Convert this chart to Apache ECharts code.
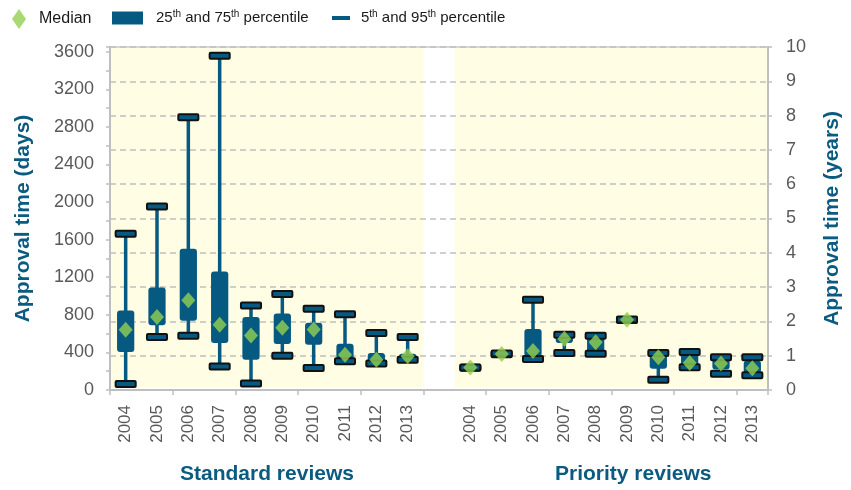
<!DOCTYPE html>
<html>
<head>
<meta charset="utf-8">
<script src="https://cdn.jsdelivr.net/npm/echarts@6/dist/echarts.min.js"></script>
<style>html,body{margin:0;padding:0;background:#fff;}#c{width:851px;height:490px;}</style>
</head>
<body>
<div id="c"></div>
<script>
// ---- data ----
const years = ['2004','2005','2006','2007','2008','2009','2010','2011','2012','2013'];
const groupNames = ['Standard reviews', 'Priority reviews'];
// Standard reviews (days)
const stdP5     = [65, 564, 578, 249, 68, 364, 235, 305, 281, 323];
const stdP25    = [405, 688, 738, 500, 323, 490, 481, 320, 288, 330];
const stdMedian = [642, 777, 954, 695, 581, 663, 645, 376, 323, 358];
const stdP75    = [845, 1092, 1503, 1262, 777, 815, 716, 493, 394, 387];
const stdP95    = [1663, 1953, 2903, 3558, 900, 1021, 865, 807, 607, 564];
// Priority reviews (days)
const priP5     = [236, 380, 330, 394, 387, 746, 110, 241, 174, 156];
const priP25    = [237, 382, 358, 500, 394, 747, 227, 245, 217, 182];
const priMedian = [240, 384, 416, 546, 507, 748, 348, 288, 281, 231];
const priP75    = [239, 386, 650, 571, 570, 749, 394, 394, 340, 312];
const priP95    = [240, 388, 961, 589, 578, 750, 394, 405, 348, 348];
const daysTicks = [0, 400, 800, 1200, 1600, 2000, 2400, 2800, 3200, 3600];
const yearTicks = [0,1,2,3,4,5,6,7,8,9,10];

// ---- build ----
const categories = years.concat([''], years);
const groups = [
  {offset: 0, p5: stdP5, p25: stdP25, med: stdMedian, p75: stdP75, p95: stdP95},
  {offset: 11, p5: priP5, p25: priP25, med: priMedian, p75: priP75, p95: priP95}
];
const whiskerData = [], boxData = [], capData = [], medData = [];
groups.forEach(g => {
  years.forEach((y, i) => {
    const x = g.offset + i;
    whiskerData.push([x, g.p5[i], g.p95[i]]);
    boxData.push([x, g.p25[i], g.p75[i]]);
    capData.push([x, g.p5[i]]);
    capData.push([x, g.p95[i]]);
    medData.push([x, g.med[i]]);
  });
});
const bgData = [[0, years.length - 1], [11, 11 + years.length - 1]];

const BLUE = '#065A82';
const GREEN = '#92D050';
const GRAY = '#595959';
const AXIS = '#BFBFBF';
const TITLE = '#0B5A80';
const FONT = '"Liberation Sans", Arial, sans-serif';

const chart = echarts.init(document.getElementById('c'), null, {renderer: 'canvas'});

const legendBase = {
  top: 4,
  textStyle: {fontFamily: FONT, fontSize: 15, color: '#1a1a1a',
    rich: {
      b: {fontFamily: FONT, fontSize: 15, color: '#1a1a1a'},
      sup: {fontFamily: FONT, fontSize: 10, color: '#1a1a1a', padding: [0, 0, 8, 0]}
    }
  },
  selectedMode: false
};

chart.setOption({
  animation: false,
  backgroundColor: '#ffffff',
  grid: {left: 110, right: 83, top: 47, bottom: 100, show: true, borderColor: '#C9C9C9', borderWidth: 1.5, backgroundColor: 'transparent'},
  legend: [
    Object.assign({}, legendBase, {left: 7, data: [{name: 'Median', icon: 'diamond'}], itemWidth: 14, itemHeight: 20,
      textStyle: Object.assign({}, legendBase.textStyle, {fontSize: 16, padding: [0, 0, 0, 8]})}),
    Object.assign({}, legendBase, {left: 107, data: [{name: '25th and 75th percentile', icon: 'rect'}], itemWidth: 31, itemHeight: 13,
      formatter: () => '{b|25}{sup|th}{b| and 75}{sup|th}{b| percentile}',
      textStyle: Object.assign({}, legendBase.textStyle, {padding: [0, 0, 0, 8]})}),
    Object.assign({}, legendBase, {left: 327, data: [{name: '5th and 95th percentile', icon: 'rect'}], itemWidth: 18, itemHeight: 4,
      formatter: () => '{b|5}{sup|th}{b| and 95}{sup|th}{b| percentile}',
      textStyle: Object.assign({}, legendBase.textStyle, {padding: [0, 0, 0, 6]})})
  ],
  xAxis: {
    type: 'category', data: categories, boundaryGap: true,
    axisLine: {lineStyle: {color: AXIS, width: 2}},
    axisTick: {show: true, interval: 1, length: 5, lineStyle: {color: AXIS, width: 1.5}},
    axisLabel: {interval: 0, rotate: 90, fontFamily: FONT, fontSize: 17, color: GRAY, margin: 15},
    splitLine: {show: false}
  },
  yAxis: [
    {
      type: 'value', min: 0, max: 3650, interval: 400, position: 'left',
      name: 'Approval time (days)', nameLocation: 'middle', nameRotate: 90, nameGap: 76,
      nameTextStyle: {fontFamily: FONT, fontWeight: 'bold', fontSize: 21, color: TITLE},
      axisLine: {show: true, lineStyle: {color: AXIS, width: 2}},
      axisTick: {show: true, length: 4, lineStyle: {color: AXIS, width: 1.5}},
      minorTick: {show: true, splitNumber: 2, length: 4, lineStyle: {color: AXIS, width: 1.5}},
      axisLabel: {fontFamily: FONT, fontSize: 18, color: GRAY, margin: 16,
        formatter: v => daysTicks.indexOf(v) >= 0 ? String(v) : ''},
      splitLine: {show: false}
    },
    {
      type: 'value', min: 0, max: 10, interval: 1, position: 'right',
      name: 'Approval time (years)', nameLocation: 'middle', nameRotate: 90, nameGap: 54,
      nameTextStyle: {fontFamily: FONT, fontWeight: 'bold', fontSize: 21, color: TITLE},
      axisLine: {show: true, lineStyle: {color: AXIS, width: 2}},
      axisTick: {show: true, length: 4, lineStyle: {color: AXIS, width: 1.5}},
      axisLabel: {fontFamily: FONT, fontSize: 18, color: GRAY, margin: 18,
        formatter: v => yearTicks.indexOf(v) >= 0 ? String(v) : ''},
      splitLine: {show: true, lineStyle: {color: '#C0C0C0', type: [6, 4], width: 1.5}}
    }
  ],
  graphic: [
    {type: 'text', left: 180, top: 464, style: {text: groupNames[0], fontFamily: FONT, fontWeight: 'bold', fontSize: 21, fill: TITLE}},
    {type: 'text', left: 555, top: 464, style: {text: groupNames[1], fontFamily: FONT, fontWeight: 'bold', fontSize: 21, fill: TITLE}}
  ],
  series: [
    {
      type: 'custom', name: 'bg', z: -1, silent: true, data: bgData,
      renderItem: (params, api) => {
        const a = api.coord([api.value(0), 0]);
        const b = api.coord([api.value(1), 0]);
        const bw = api.size([1, 0])[0];
        const cs = params.coordSys;
        return {type: 'rect', shape: {x: a[0] - bw / 2, y: cs.y, width: b[0] - a[0] + bw, height: cs.height - 3},
          style: {fill: '#FFFDE3'}};
      }
    },
    {
      type: 'custom', name: '5th and 95th percentile', data: whiskerData, itemStyle: {color: BLUE},
      renderItem: (params, api) => {
        const lo = api.coord([api.value(0), api.value(1)]);
        const hi = api.coord([api.value(0), api.value(2)]);
        return {type: 'line', shape: {x1: lo[0], y1: lo[1], x2: hi[0], y2: hi[1]},
          style: {stroke: BLUE, lineWidth: 3.5}};
      }
    },
    {
      type: 'custom', name: '25th and 75th percentile', data: boxData, itemStyle: {color: BLUE},
      renderItem: (params, api) => {
        const lo = api.coord([api.value(0), api.value(1)]);
        const hi = api.coord([api.value(0), api.value(2)]);
        const bw = api.size([1, 0])[0] * 0.55;
        return {type: 'rect', shape: {x: lo[0] - bw / 2, y: hi[1], width: bw, height: Math.max(lo[1] - hi[1], 1), r: 3},
          style: {fill: BLUE}};
      }
    },
    {
      type: 'custom', name: '5th and 95th percentile', data: capData, itemStyle: {color: BLUE},
      renderItem: (params, api) => {
        const p = api.coord([api.value(0), api.value(1)]);
        const cw = api.size([1, 0])[0] * 0.64;
        return {type: 'rect', shape: {x: p[0] - cw / 2, y: p[1] - 3, width: cw, height: 6, r: 1},
          style: {fill: BLUE, stroke: '#111', lineWidth: 2}};
      }
    },
    {
      type: 'scatter', name: 'Median', data: medData, symbol: 'diamond', symbolSize: [14, 16],
      itemStyle: {color: GREEN}
    }
  ]
});
</script>
</body>
</html>
